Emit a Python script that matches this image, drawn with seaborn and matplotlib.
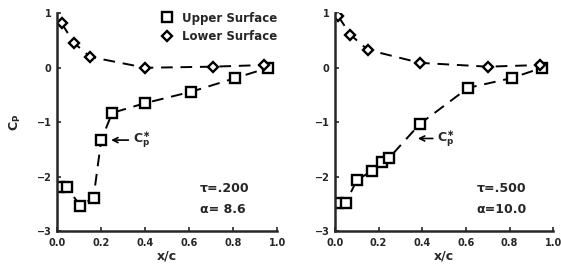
import matplotlib
matplotlib.use("Agg")
import matplotlib.pyplot as plt
import seaborn as sns

sns.set_style("ticks")
plt.rcParams['font.family'] = ['DejaVu Sans']
plt.rcParams['font.weight'] = 'bold'

# left panel: tau = .200, alpha = 8.6
upper_x_a = [0.01, 0.045, 0.105, 0.165, 0.20, 0.25, 0.40, 0.61, 0.81, 0.96]
upper_cp_a = [-2.2, -2.2, -2.54, -2.39, -1.33, -0.83, -0.65, -0.44, -0.19, 0.0]
lower_x_a = [0.02, 0.075, 0.15, 0.40, 0.71, 0.94]
lower_cp_a = [0.82, 0.46, 0.2, 0.0, 0.02, 0.05]

# right panel: tau = .500, alpha = 10.0
upper_x_b = [0.015, 0.05, 0.10, 0.17, 0.215, 0.25, 0.39, 0.61, 0.81, 0.95]
upper_cp_b = [-2.48, -2.48, -2.07, -1.89, -1.74, -1.65, -1.03, -0.37, -0.19, 0.0]
lower_x_b = [0.015, 0.07, 0.15, 0.39, 0.70, 0.94]
lower_cp_b = [0.95, 0.61, 0.33, 0.09, 0.02, 0.05]

x_ticks = [0.0, 0.2, 0.4, 0.6, 0.8, 1.0]
x_ticklabels = ['0.0', '0.2', '0.4', '0.6', '0.8', '1.0']
y_ticks = [1, 0, -1, -2, -3]

fig = plt.figure(figsize=(5.61, 2.67), dpi=100)
ax1 = fig.add_axes([0.102, 0.135, 0.392, 0.815])
ax2 = fig.add_axes([0.597, 0.135, 0.389, 0.815])

line_kw = dict(color='black', linestyle=(0, (6, 4)), linewidth=1.4,
               markersize=6.5, markerfacecolor='white', markeredgecolor='black',
               markeredgewidth=1.7, estimator=None, sort=False)

panels = [
    (ax1, upper_x_a, upper_cp_a, lower_x_a, lower_cp_a, '\u03c4=.200', '\u03b1= 8.6', (0.345, -1.33), (0.245, -1.33)),
    (ax2, upper_x_b, upper_cp_b, lower_x_b, lower_cp_b, '\u03c4=.500', '\u03b1=10.0', (0.47, -1.3), (0.38, -1.3)),
]

for ax, ux, uy, lx, ly, tau, alpha, txt_pos, arr_pos in panels:
    sns.lineplot(x=ux, y=uy, marker='s', ax=ax, label='Upper Surface', **line_kw)
    sns.lineplot(x=lx, y=ly, marker='D', ax=ax, label='Lower Surface',
                 **{**line_kw, 'markersize': 5.5})
    ax.set_xlim(0, 1.0)
    ax.set_ylim(-3, 1)
    ax.set_xticks(x_ticks)
    ax.set_xticklabels(x_ticklabels)
    ax.set_yticks(y_ticks)
    ax.tick_params(direction='in', length=3, width=1.2, labelsize=7)
    ax.tick_params(axis='x', pad=5)
    ax.tick_params(axis='y', pad=4)
    for s in ['left', 'bottom']:
        ax.spines[s].set_linewidth(1.8)
    sns.despine(ax=ax)
    ax.set_xlabel('x/c', fontsize=9, fontweight='bold', labelpad=1)
    ax.text(0.65, -2.22, tau, fontsize=9, fontweight='bold', va='center')
    ax.text(0.65, -2.6, alpha, fontsize=9, fontweight='bold', va='center')
    ax.annotate(r'$\mathbf{C_p^{\ast}}$', xy=arr_pos, xytext=txt_pos,
                fontsize=9, va='center',
                arrowprops=dict(arrowstyle='->', color='black', lw=1.2,
                                shrinkA=1, shrinkB=0))
    ax.get_legend().remove()

ax1.set_ylabel(r'$\mathbf{C_P}$', fontsize=9, labelpad=10)
ax2.set_ylabel('')

handles, labels = ax1.get_legend_handles_labels()
ax1.legend(handles, labels, loc='upper right', bbox_to_anchor=(1.02, 1.03),
           frameon=False, fontsize=8.5, handlelength=0, handletextpad=1.2,
           labelspacing=0.45, borderaxespad=0)
for h in ax1.get_legend().legend_handles:
    h.set_linestyle('none')

fig.savefig('out.png', dpi=100)
